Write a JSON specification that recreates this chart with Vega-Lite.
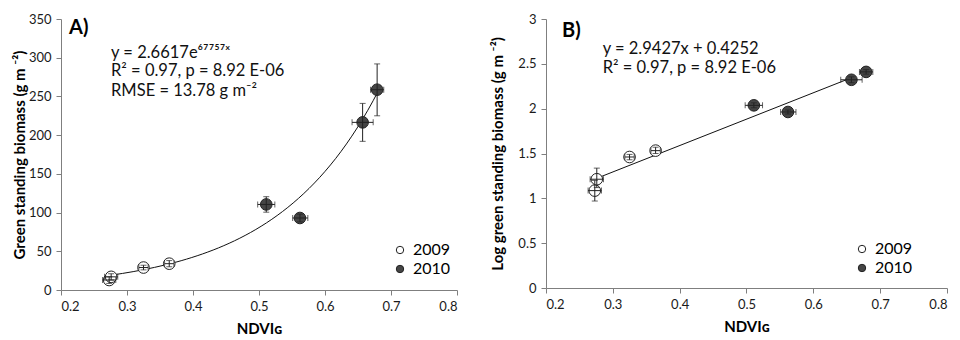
{
  "$schema": "https://vega.github.io/schema/vega-lite/v6.json",
  "padding": {"left": 12, "top": 13, "right": 0, "bottom": 0},
  "spacing": 32,
  "datasets": {
    "pts": [
      {"ndvi": 0.273, "xlo": 0.263, "xhi": 0.283, "bio": 12.9, "bioLo": 8.5, "bioHi": 17, "logb": 1.086, "logLo": 0.97, "logHi": 1.2, "year": "2009"},
      {"ndvi": 0.276, "xlo": 0.266, "xhi": 0.286, "bio": 17.0, "bioLo": 13, "bioHi": 21, "logb": 1.213, "logLo": 1.12, "logHi": 1.337, "year": "2009"},
      {"ndvi": 0.325, "xlo": 0.318, "xhi": 0.332, "bio": 29.0, "bioLo": 26, "bioHi": 32, "logb": 1.461, "logLo": 1.43, "logHi": 1.49, "year": "2009"},
      {"ndvi": 0.364, "xlo": 0.357, "xhi": 0.371, "bio": 34.0, "bioLo": 30, "bioHi": 38, "logb": 1.532, "logLo": 1.5, "logHi": 1.57, "year": "2009"},
      {"ndvi": 0.511, "xlo": 0.498, "xhi": 0.524, "bio": 110.5, "bioLo": 100.5, "bioHi": 120.5, "logb": 2.037, "logLo": 2.01, "logHi": 2.065, "year": "2010"},
      {"ndvi": 0.562, "xlo": 0.551, "xhi": 0.574, "bio": 93, "bioLo": 88, "bioHi": 98, "logb": 1.963, "logLo": 1.94, "logHi": 1.985, "year": "2010"},
      {"ndvi": 0.657, "xlo": 0.641, "xhi": 0.673, "bio": 216.5, "bioLo": 192, "bioHi": 241, "logb": 2.322, "logLo": 2.29, "logHi": 2.355, "year": "2010"},
      {"ndvi": 0.679, "xlo": 0.669, "xhi": 0.689, "bio": 258.7, "bioLo": 225, "bioHi": 292, "logb": 2.41, "logLo": 2.385, "logHi": 2.435, "year": "2010"}
    ]
  },
  "config": {
    "view": {"stroke": null},
    "font": "Lato",
    "axis": {
      "grid": false, "domainColor": "#7f7f7f", "tickColor": "#7f7f7f", "tickSize": 5, "labelOverlap": false,
      "labelColor": "#1a1a1a", "labelFontSize": 13, "labelFont": "Lato", "labelPadding": 5,
      "titleFont": "Lato", "titleFontSize": 15, "titleFontWeight": "bold", "titleColor": "#000"
    },
    "axisY": {"titlePadding": 12},
    "axisX": {"titlePadding": 8},
    "legend": {
      "orient": "none", "title": null, "labelFont": "Lato", "labelFontSize": 16, "labelColor": "#000",
      "symbolSize": 55, "symbolStrokeColor": "#222", "symbolStrokeWidth": 1, "rowPadding": 3, "labelOffset": 5
    }
  },
  "resolve": {"scale": {"fill": "independent"}, "legend": {"fill": "independent"}},
  "hconcat": [
    {
      "width": 396, "height": 271,
      "layer": [
        {
          "data": {"name": "pts"},
          "transform": [{"regression": "bio", "on": "ndvi", "method": "exp", "extent": [0.277, 0.681]}],
          "mark": {"type": "line", "color": "#111", "strokeWidth": 1},
          "encoding": {
            "x": {"field": "ndvi", "type": "quantitative", "scale": {"domain": [0.2, 0.8], "nice": false}, "axis": {"values": [0.2, 0.3, 0.4, 0.5, 0.6, 0.7, 0.8], "format": ".1f", "labelOverlap": false}, "title": "NDVIɢ"},
            "y": {"field": "bio", "type": "quantitative", "scale": {"domain": [0, 350], "nice": false}, "axis": {"values": [0, 50, 100, 150, 200, 250, 300, 350], "titlePadding": 1, "labelOverlap": false}, "title": "Green standing biomass (g m ⁻²)"}
          }
        },
        {
          "data": {"name": "pts"},
          "mark": {"type": "point", "filled": true, "size": 135, "stroke": "#222", "strokeWidth": 1, "opacity": 1},
          "encoding": {
            "x": {"field": "ndvi", "type": "quantitative", "axis": {"values": [0.2, 0.3, 0.4, 0.5, 0.6, 0.7, 0.8], "format": ".1f", "labelOverlap": false}, "title": "NDVIɢ"},
            "y": {"field": "bio", "type": "quantitative", "axis": {"values": [0, 50, 100, 150, 200, 250, 300, 350], "titlePadding": 1, "labelOverlap": false}, "title": "Green standing biomass (g m ⁻²)"},
            "fill": {"field": "year", "type": "nominal", "scale": {"domain": ["2009", "2010"], "range": ["#ffffff", "#454545"]}, "legend": {"legendX": 331, "legendY": 223}}
          }
        },
        {
          "data": {"name": "pts"},
          "mark": {"type": "errorbar", "ticks": true, "size": 6, "thickness": 1, "color": "#222"},
          "encoding": {
            "x": {"field": "ndvi", "type": "quantitative", "axis": {"values": [0.2, 0.3, 0.4, 0.5, 0.6, 0.7, 0.8], "format": ".1f", "labelOverlap": false}, "title": "NDVIɢ"},
            "y": {"field": "bioLo", "type": "quantitative", "axis": {"values": [0, 50, 100, 150, 200, 250, 300, 350], "titlePadding": 1, "labelOverlap": false}, "title": "Green standing biomass (g m ⁻²)"},
            "y2": {"field": "bioHi"}
          }
        },
        {
          "data": {"name": "pts"},
          "mark": {"type": "errorbar", "ticks": true, "size": 6, "thickness": 1, "color": "#222"},
          "encoding": {
            "x": {"field": "xlo", "type": "quantitative", "axis": {"values": [0.2, 0.3, 0.4, 0.5, 0.6, 0.7, 0.8], "format": ".1f", "labelOverlap": false}, "title": "NDVIɢ"},
            "x2": {"field": "xhi"},
            "y": {"field": "bio", "type": "quantitative", "axis": {"values": [0, 50, 100, 150, 200, 250, 300, 350], "titlePadding": 1, "labelOverlap": false}, "title": "Green standing biomass (g m ⁻²)"}
          }
        },
        {
          "data": {"values": [{"x": 0.2121, "y": 338.4, "label": "A)"}]},
          "mark": {"type": "text", "align": "left", "baseline": "middle", "fontSize": 20, "fontWeight": "bold", "font": "Lato", "color": "#000"},
          "encoding": {
            "x": {"field": "x", "type": "quantitative", "axis": {"values": [0.2, 0.3, 0.4, 0.5, 0.6, 0.7, 0.8], "format": ".1f", "labelOverlap": false}, "title": "NDVIɢ"},
            "y": {"field": "y", "type": "quantitative", "axis": {"values": [0, 50, 100, 150, 200, 250, 300, 350], "titlePadding": 1, "labelOverlap": false}, "title": "Green standing biomass (g m ⁻²)"},
            "text": {"field": "label"}
          }
        },
        {
          "data": {"values": [
            {"x": 0.2758, "y": 300.0, "label": "y = 2.6617e⁶⁷⁷⁵⁷ˣ"},
            {"x": 0.2758, "y": 276.0, "label": "R² = 0.97, p = 8.92 E-06"},
            {"x": 0.2758, "y": 251.0, "label": "RMSE = 13.78 g m⁻²"}
          ]},
          "mark": {"type": "text", "align": "left", "baseline": "alphabetic", "fontSize": 16.5, "font": "Lato", "color": "#111"},
          "encoding": {
            "x": {"field": "x", "type": "quantitative", "axis": {"values": [0.2, 0.3, 0.4, 0.5, 0.6, 0.7, 0.8], "format": ".1f", "labelOverlap": false}, "title": "NDVIɢ"},
            "y": {"field": "y", "type": "quantitative", "axis": {"values": [0, 50, 100, 150, 200, 250, 300, 350], "titlePadding": 1, "labelOverlap": false}, "title": "Green standing biomass (g m ⁻²)"},
            "text": {"field": "label"}
          }
        }
      ]
    },
    {
      "width": 401, "height": 269,
      "layer": [
        {
          "data": {"name": "pts"},
          "transform": [{"regression": "logb", "on": "ndvi", "method": "linear", "extent": [0.279, 0.659]}],
          "mark": {"type": "line", "color": "#111", "strokeWidth": 1},
          "encoding": {
            "x": {"field": "ndvi", "type": "quantitative", "scale": {"domain": [0.2, 0.8], "nice": false}, "axis": {"values": [0.2, 0.3, 0.4, 0.5, 0.6, 0.7, 0.8], "format": ".1f", "labelOverlap": false}, "title": "NDVIɢ"},
            "y": {"field": "logb", "type": "quantitative", "scale": {"domain": [0, 3], "nice": false}, "axis": {"values": [0, 0.5, 1, 1.5, 2, 2.5, 3], "format": "~g", "labelOverlap": false}, "title": "Log green standing biomass (g m ⁻²)"}
          }
        },
        {
          "data": {"name": "pts"},
          "mark": {"type": "point", "filled": true, "size": 135, "stroke": "#222", "strokeWidth": 1, "opacity": 1},
          "encoding": {
            "x": {"field": "ndvi", "type": "quantitative", "axis": {"values": [0.2, 0.3, 0.4, 0.5, 0.6, 0.7, 0.8], "format": ".1f", "labelOverlap": false}, "title": "NDVIɢ"},
            "y": {"field": "logb", "type": "quantitative", "axis": {"values": [0, 0.5, 1, 1.5, 2, 2.5, 3], "format": "~g", "labelOverlap": false}, "title": "Log green standing biomass (g m ⁻²)"},
            "fill": {"field": "year", "type": "nominal", "scale": {"domain": ["2009", "2010"], "range": ["#ffffff", "#454545"]}, "legend": {"legendX": 308, "legendY": 222}}
          }
        },
        {
          "data": {"name": "pts"},
          "mark": {"type": "errorbar", "ticks": true, "size": 6, "thickness": 1, "color": "#222"},
          "encoding": {
            "x": {"field": "ndvi", "type": "quantitative", "axis": {"values": [0.2, 0.3, 0.4, 0.5, 0.6, 0.7, 0.8], "format": ".1f", "labelOverlap": false}, "title": "NDVIɢ"},
            "y": {"field": "logLo", "type": "quantitative", "axis": {"values": [0, 0.5, 1, 1.5, 2, 2.5, 3], "format": "~g", "labelOverlap": false}, "title": "Log green standing biomass (g m ⁻²)"},
            "y2": {"field": "logHi"}
          }
        },
        {
          "data": {"name": "pts"},
          "mark": {"type": "errorbar", "ticks": true, "size": 6, "thickness": 1, "color": "#222"},
          "encoding": {
            "x": {"field": "xlo", "type": "quantitative", "axis": {"values": [0.2, 0.3, 0.4, 0.5, 0.6, 0.7, 0.8], "format": ".1f", "labelOverlap": false}, "title": "NDVIɢ"},
            "x2": {"field": "xhi"},
            "y": {"field": "logb", "type": "quantitative", "axis": {"values": [0, 0.5, 1, 1.5, 2, 2.5, 3], "format": "~g", "labelOverlap": false}, "title": "Log green standing biomass (g m ⁻²)"}
          }
        },
        {
          "data": {"values": [{"x": 0.2239, "y": 2.866, "label": "B)"}]},
          "mark": {"type": "text", "align": "left", "baseline": "middle", "fontSize": 20, "fontWeight": "bold", "font": "Lato", "color": "#000"},
          "encoding": {
            "x": {"field": "x", "type": "quantitative", "axis": {"values": [0.2, 0.3, 0.4, 0.5, 0.6, 0.7, 0.8], "format": ".1f", "labelOverlap": false}, "title": "NDVIɢ"},
            "y": {"field": "y", "type": "quantitative", "axis": {"values": [0, 0.5, 1, 1.5, 2, 2.5, 3], "format": "~g", "labelOverlap": false}, "title": "Log green standing biomass (g m ⁻²)"},
            "text": {"field": "label"}
          }
        },
        {
          "data": {"values": [
            {"x": 0.2848, "y": 2.61, "label": "y = 2.9427x + 0.4252"},
            {"x": 0.2848, "y": 2.398, "label": "R² = 0.97, p = 8.92 E-06"}
          ]},
          "mark": {"type": "text", "align": "left", "baseline": "alphabetic", "fontSize": 16.5, "font": "Lato", "color": "#111"},
          "encoding": {
            "x": {"field": "x", "type": "quantitative", "axis": {"values": [0.2, 0.3, 0.4, 0.5, 0.6, 0.7, 0.8], "format": ".1f", "labelOverlap": false}, "title": "NDVIɢ"},
            "y": {"field": "y", "type": "quantitative", "axis": {"values": [0, 0.5, 1, 1.5, 2, 2.5, 3], "format": "~g", "labelOverlap": false}, "title": "Log green standing biomass (g m ⁻²)"},
            "text": {"field": "label"}
          }
        }
      ]
    }
  ]
}
